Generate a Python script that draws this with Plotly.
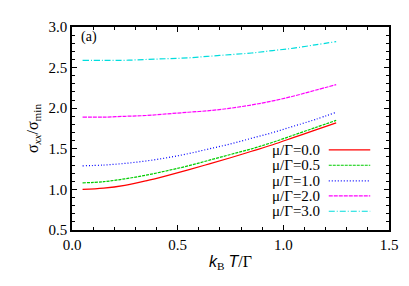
import plotly.graph_objects as go

kT = [0.05, 0.15, 0.25, 0.35, 0.45, 0.55, 0.65, 0.75, 0.85, 0.95, 1.05, 1.15, 1.25]
s_mu00 = [1.00, 1.015, 1.05, 1.105, 1.17, 1.24, 1.315, 1.39, 1.47, 1.55, 1.64, 1.73, 1.82]
s_mu05 = [1.08, 1.095, 1.13, 1.175, 1.23, 1.29, 1.36, 1.43, 1.50, 1.58, 1.67, 1.76, 1.85]
s_mu10 = [1.29, 1.30, 1.32, 1.35, 1.39, 1.44, 1.50, 1.56, 1.63, 1.70, 1.78, 1.86, 1.95]
s_mu20 = [1.89, 1.89, 1.90, 1.91, 1.93, 1.95, 1.97, 2.00, 2.04, 2.09, 2.15, 2.22, 2.29]
s_mu30 = [2.59, 2.59, 2.59, 2.60, 2.61, 2.62, 2.64, 2.66, 2.68, 2.71, 2.74, 2.78, 2.82]

labels = ["μ/Γ=0.0", "μ/Γ=0.5", "μ/Γ=1.0", "μ/Γ=2.0", "μ/Γ=3.0"]
series = [s_mu00, s_mu05, s_mu10, s_mu20, s_mu30]
colors = ["#ff0000", "#00cc00", "#0000ff", "#ff00ff", "#00dddd"]
dashes = ["solid", "3px,1px", "1px,2px", "4px,1px", "6px,2px,1px,2px"]

fig = go.Figure()
for lab, ys, c, d in zip(labels, series, colors, dashes):
    fig.add_trace(go.Scatter(x=kT, y=ys, mode="lines", name=lab,
                             line=dict(color=c, width=1.2, dash=d, shape="spline", smoothing=1.0),
                             showlegend=False))

FONT = "Liberation Serif"
SANS = "Liberation Sans"
OFF = 8  # page body margin offset
W, H = 409 - OFF, 286 - OFF
L, R, T, B = 72 - OFF, 16, 19 - OFF, 64 - OFF
pw, ph = W - L - R, H - T - B
def px2paper(xp, yp):
    return (xp - OFF - L) / pw, 1 - (yp - OFF - T) / ph

row_y = [146.7, 162.7, 179, 194.5, 210.5]
for lab, c, d, yp in zip(labels, colors, dashes, row_y):
    xt, yt = px2paper(325, yp)
    fig.add_annotation(x=xt, y=yt, xref="paper", yref="paper", text=lab, showarrow=False,
                       xanchor="right", yanchor="middle", font=dict(family=FONT, size=15, color="black"))
    x0, y0 = px2paper(332, yp)
    x1, _ = px2paper(374, yp)
    fig.add_shape(type="line", xref="paper", yref="paper", x0=x0, x1=x1, y0=y0, y1=y0,
                  line=dict(color=c, width=1.2, dash=d))

ax, ay = px2paper(79, 29)
fig.add_annotation(x=ax, y=ay, xref="paper", yref="paper",
                   text="(a)", showarrow=False, xanchor="left", yanchor="middle",
                   font=dict(family=FONT, size=14, color="black"))

axis_common = dict(showline=True, linecolor="black", linewidth=1.5, mirror="ticks",
                   ticks="inside", ticklen=5, tickwidth=1, tickcolor="black",
                   showgrid=False, zeroline=False,
                   tickfont=dict(family=FONT, size=15, color="black"))
xtitle = (f"<span style='font-family:{SANS}'><i>k</i></span><sub>B</sub> "
          f"<span style='font-family:{SANS}'><i>T</i></span>/Γ")
fig.update_xaxes(range=[0, 1.5], dtick=0.5, tickformat=".1f",
                 minor=dict(ticks="inside", ticklen=3, dtick=0.1, tickcolor="black"),
                 title=dict(text=xtitle, standoff=4,
                            font=dict(family=FONT, size=16, color="black")),
                 **axis_common)
fig.update_yaxes(range=[0.5, 3.0], dtick=0.5, tickformat=".1f",
                 minor=dict(ticks="inside", ticklen=3, dtick=0.1, tickcolor="black"),
                 title=dict(text="σ<sub><i>xx</i></sub>/σ<sub>min</sub>", standoff=6,
                            font=dict(family=FONT, size=16, color="black")),
                 **axis_common)
fig.update_layout(width=W, height=H, margin=dict(l=L, r=R, t=T, b=B),
                  plot_bgcolor="white", paper_bgcolor="white")
fig.write_html("out.html")
